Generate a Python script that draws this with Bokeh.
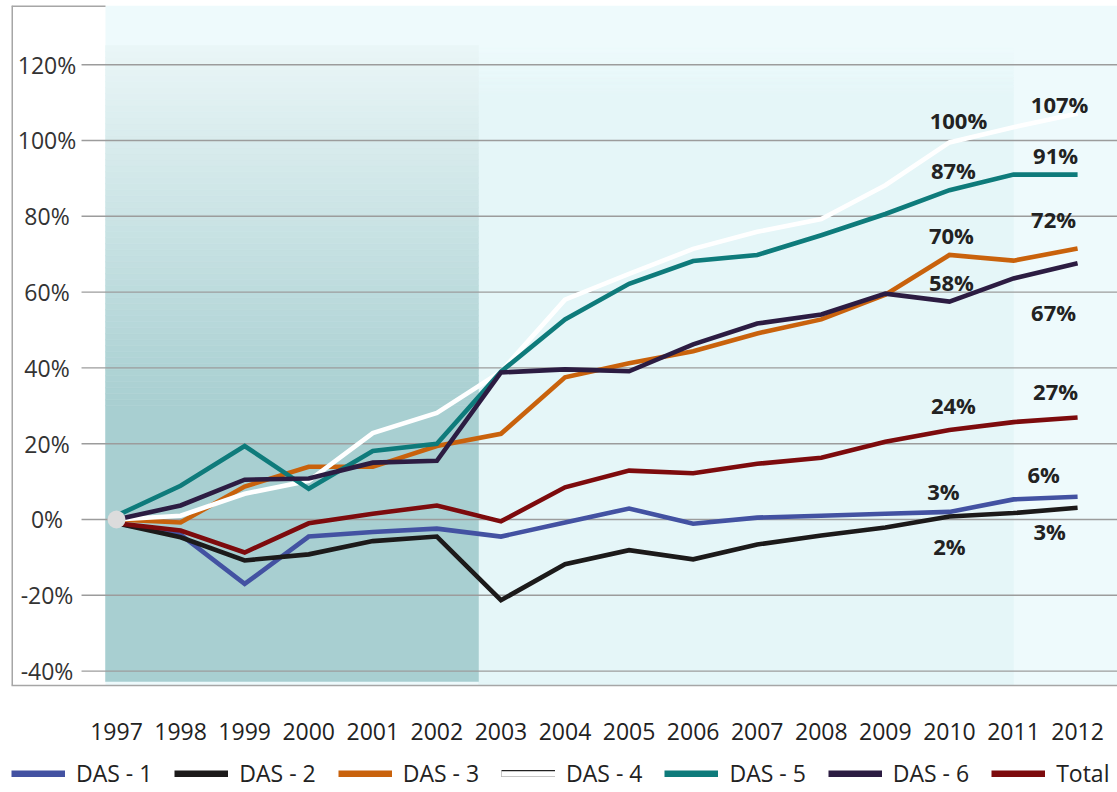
from bokeh.plotting import figure
from bokeh.layouts import column
from bokeh.models import Range1d, FixedTicker, Legend, LegendItem
from bokeh.core.properties import value
from bokeh.embed import file_html
from bokeh.resources import INLINE

# ---------------- data ----------------
years = list(range(1997, 2013))
year_labels = [str(y) for y in years]
y_ticks = [-40, -20, 0, 20, 40, 60, 80, 100, 120]
y_tick_labels = ["-40%", "-20%", "0%", "20%", "40%", "60%", "80%", "100%", "120%"]

das1 = [-1.0, -4.0, -17.0, -4.5, -3.3, -2.4, -4.5, -0.8, 2.9, -1.1, 0.5, 1.0, 1.5, 2.0, 5.3, 6.0]
das2 = [-1.0, -4.7, -10.8, -9.2, -5.7, -4.5, -21.3, -11.8, -8.1, -10.5, -6.6, -4.2, -2.1, 0.8, 1.7, 3.1]
das3 = [0.0, -0.8, 8.7, 13.9, 13.9, 19.4, 22.6, 37.5, 41.2, 44.4, 49.1, 52.8, 59.3, 69.8, 68.3, 71.5]
das4 = [0.0, 1.0, 6.8, 10.2, 22.8, 28.1, 39.0, 58.0, 64.8, 71.4, 75.9, 79.3, 88.2, 99.5, 103.5, 107.1]
das5 = [1.0, 8.9, 19.4, 8.1, 18.1, 20.0, 39.0, 52.8, 62.2, 68.2, 69.8, 75.0, 80.6, 86.9, 91.0, 91.0]
das6 = [0.0, 3.7, 10.5, 10.8, 15.0, 15.5, 38.8, 39.6, 39.1, 46.2, 51.7, 54.1, 59.6, 57.5, 63.6, 67.6]
total = [-1.0, -2.9, -8.7, -1.0, 1.5, 3.7, -0.5, 8.5, 12.9, 12.2, 14.7, 16.3, 20.5, 23.6, 25.7, 26.9]

series_names = ["DAS - 1", "DAS - 2", "DAS - 3", "DAS - 4", "DAS - 5", "DAS - 6", "Total"]
series_values = [das1, das2, das3, das4, das5, das6, total]

# value labels: series index, year, text
label_series = [3, 3, 4, 4, 2, 2, 5, 5, 6, 6, 0, 0, 1, 1]
label_years = [2010, 2012, 2010, 2012, 2010, 2012, 2010, 2012, 2010, 2012, 2010, 2012, 2010, 2012]
label_texts = ["100%", "107%", "87%", "91%", "70%", "72%", "58%", "67%", "24%", "27%", "3%", "6%", "2%", "3%"]

# ---------------- style / layout ----------------
series_colors = ["#4352a2", "#1c1a1a", "#c9620c", "#ffffff", "#0e7b7b", "#2c1c42", "#7d0b0d"]
label_dx = [9, -18, 4, -22, 2, -24, 2, -24, 4, -22, -6, -34, 0, -28]
label_dy = [-22, -10, -20, -20, -20, -30, -20, 49, -25, -27, -21, -23, 30, 23]

X0, X1 = 1995.361, 2012.623
Y0, Y1 = -43.80, 135.62
FONT = "Open Sans"


def hexc(c):
    return "#%02x%02x%02x" % c


def mix(a, b, f):
    return tuple(int(round(a[k] + (b[k] - a[k]) * f)) for k in range(3))


p = figure(width=1117, height=753, x_range=Range1d(X0, X1), y_range=Range1d(Y0, Y1),
           output_backend="svg", toolbar_location=None,
           min_border_left=11, min_border_right=0, min_border_top=5, min_border_bottom=68,
           background_fill_color="white", border_fill_color="white", outline_line_color=None)
p.grid.visible = False
p.yaxis.visible = False

# backgrounds
cyan_left = 1996.828
band_right = 2002.65
mid_right = 2011.0
band_top = 125.07
band_bottom = -42.74
c_base = (238, 250, 252)
c_mid = (229, 246, 248)
p.quad(left=[cyan_left], right=[X1], bottom=[Y0], top=[Y1], fill_color=hexc(c_base), line_color=None)

# middle area: fades in from the top
m_fade_low = 112.0
nm = 20
ml, mr, mb, mt, mc = [], [], [], [], []
for i in range(nm):
    t0 = band_top - (band_top - m_fade_low) * i / nm
    t1 = band_top - (band_top - m_fade_low) * (i + 1) / nm
    ml.append(band_right); mr.append(mid_right); mt.append(t0); mb.append(t1)
    mc.append(hexc(mix(c_base, c_mid, (i + 0.5) / nm)))
ml.append(band_right); mr.append(mid_right); mt.append(m_fade_low); mb.append(Y0); mc.append(hexc(c_mid))
p.quad(left=ml, right=mr, bottom=mb, top=mt, fill_color=mc, line_color=mc, line_width=0.5)

# dark band with vertical gradient
grad_low = 30.0
n = 60
c_top = (234, 246, 247)
c_bot = (168, 207, 209)
lefts, rights, bots, tops, cols = [], [], [], [], []
for i in range(n):
    t0 = band_top - (band_top - grad_low) * i / n
    t1 = band_top - (band_top - grad_low) * (i + 1) / n
    lefts.append(cyan_left); rights.append(band_right)
    tops.append(t0); bots.append(t1)
    cols.append(hexc(mix(c_top, c_bot, (i + 0.5) / n)))
lefts.append(cyan_left); rights.append(band_right); tops.append(grad_low); bots.append(band_bottom)
cols.append(hexc(c_bot))
p.quad(left=lefts, right=rights, bottom=bots, top=tops, fill_color=cols, line_color=cols, line_width=0.5)

# gridlines
grid_x0 = 1996.454
p.segment(x0=[grid_x0] * len(y_ticks), x1=[X1] * len(y_ticks), y0=y_ticks, y1=y_ticks,
          line_color="#9c9c9c", line_width=1.4)

# frame border (left + top-left piece)
p.segment(x0=[X0, X0], x1=[X0, cyan_left], y0=[Y0, Y1], y1=[Y1, Y1], line_color="#a6a6a6", line_width=3)

# series lines
for vals, col in zip(series_values, series_colors):
    p.line(years, vals, line_color=col, line_width=4.6, line_join="miter")

# starting point
p.scatter([years[0]], [0], size=18, fill_color="#dcdcdc", line_color=None)

# value labels
lab_y = [series_values[s][years.index(yr)] for s, yr in zip(label_series, label_years)]
p.text(x=label_years, y=lab_y, text=label_texts, x_offset=label_dx, y_offset=label_dy,
       text_align="center", text_baseline="middle", text_font=value(FONT),
       text_font_style="bold", text_font_size="22px", text_color="#222222")

# y tick labels (drawn inside the frame)
ylab_x = 1995.915
p.text(x=[ylab_x] * len(y_ticks), y=y_ticks, text=y_tick_labels, text_align="center",
       text_baseline="middle", text_font=value(FONT), text_font_size="23px", text_color="#333333")

# x axis
xa = p.xaxis[0]
xa.ticker = FixedTicker(ticks=years)
xa.major_label_overrides = {y: s for y, s in zip(years, year_labels)}
xa.axis_line_color = "#a6a6a6"
xa.axis_line_width = 1.5
xa.major_tick_out = 0
xa.major_tick_in = 0
xa.minor_tick_out = 0
xa.minor_tick_in = 0
xa.major_label_standoff = 37
xa.major_label_text_font = FONT
xa.major_label_text_font_size = "23px"
xa.major_label_text_color = "#222222"

# ---------------- legend strip ----------------
lf = figure(width=1117, height=39, x_range=Range1d(0, 1), y_range=Range1d(0, 1),
            output_backend="svg", toolbar_location=None,
            min_border_left=0, min_border_right=0, min_border_top=0, min_border_bottom=0,
            background_fill_color="white", border_fill_color="white", outline_line_color=None)
lf.axis.visible = False
lf.grid.visible = False

nan = float("nan")
items = []
for name, col in zip(series_names, series_colors):
    rs = []
    if col == "#ffffff":
        rs.append(lf.line([nan], [nan], line_color="#222222", line_width=8, line_cap="butt"))
        rs.append(lf.line([nan], [nan], line_color=col, line_width=5.5, line_cap="butt"))
    else:
        rs.append(lf.line([nan], [nan], line_color=col, line_width=7, line_cap="butt"))
    items.append(LegendItem(label=name, renderers=rs))
legend = Legend(items=items, orientation="horizontal", location=(0, 3),
                glyph_width=54, glyph_height=7, label_standoff=11, spacing=22,
                padding=0, margin=0, label_height=26,
                label_text_font=FONT, label_text_font_size="23px", label_text_color="#222222",
                background_fill_alpha=0, border_line_alpha=0)
lf.add_layout(legend)

layout = column(p, lf, spacing=0)
open("out.html", "w").write(file_html(layout, INLINE))
